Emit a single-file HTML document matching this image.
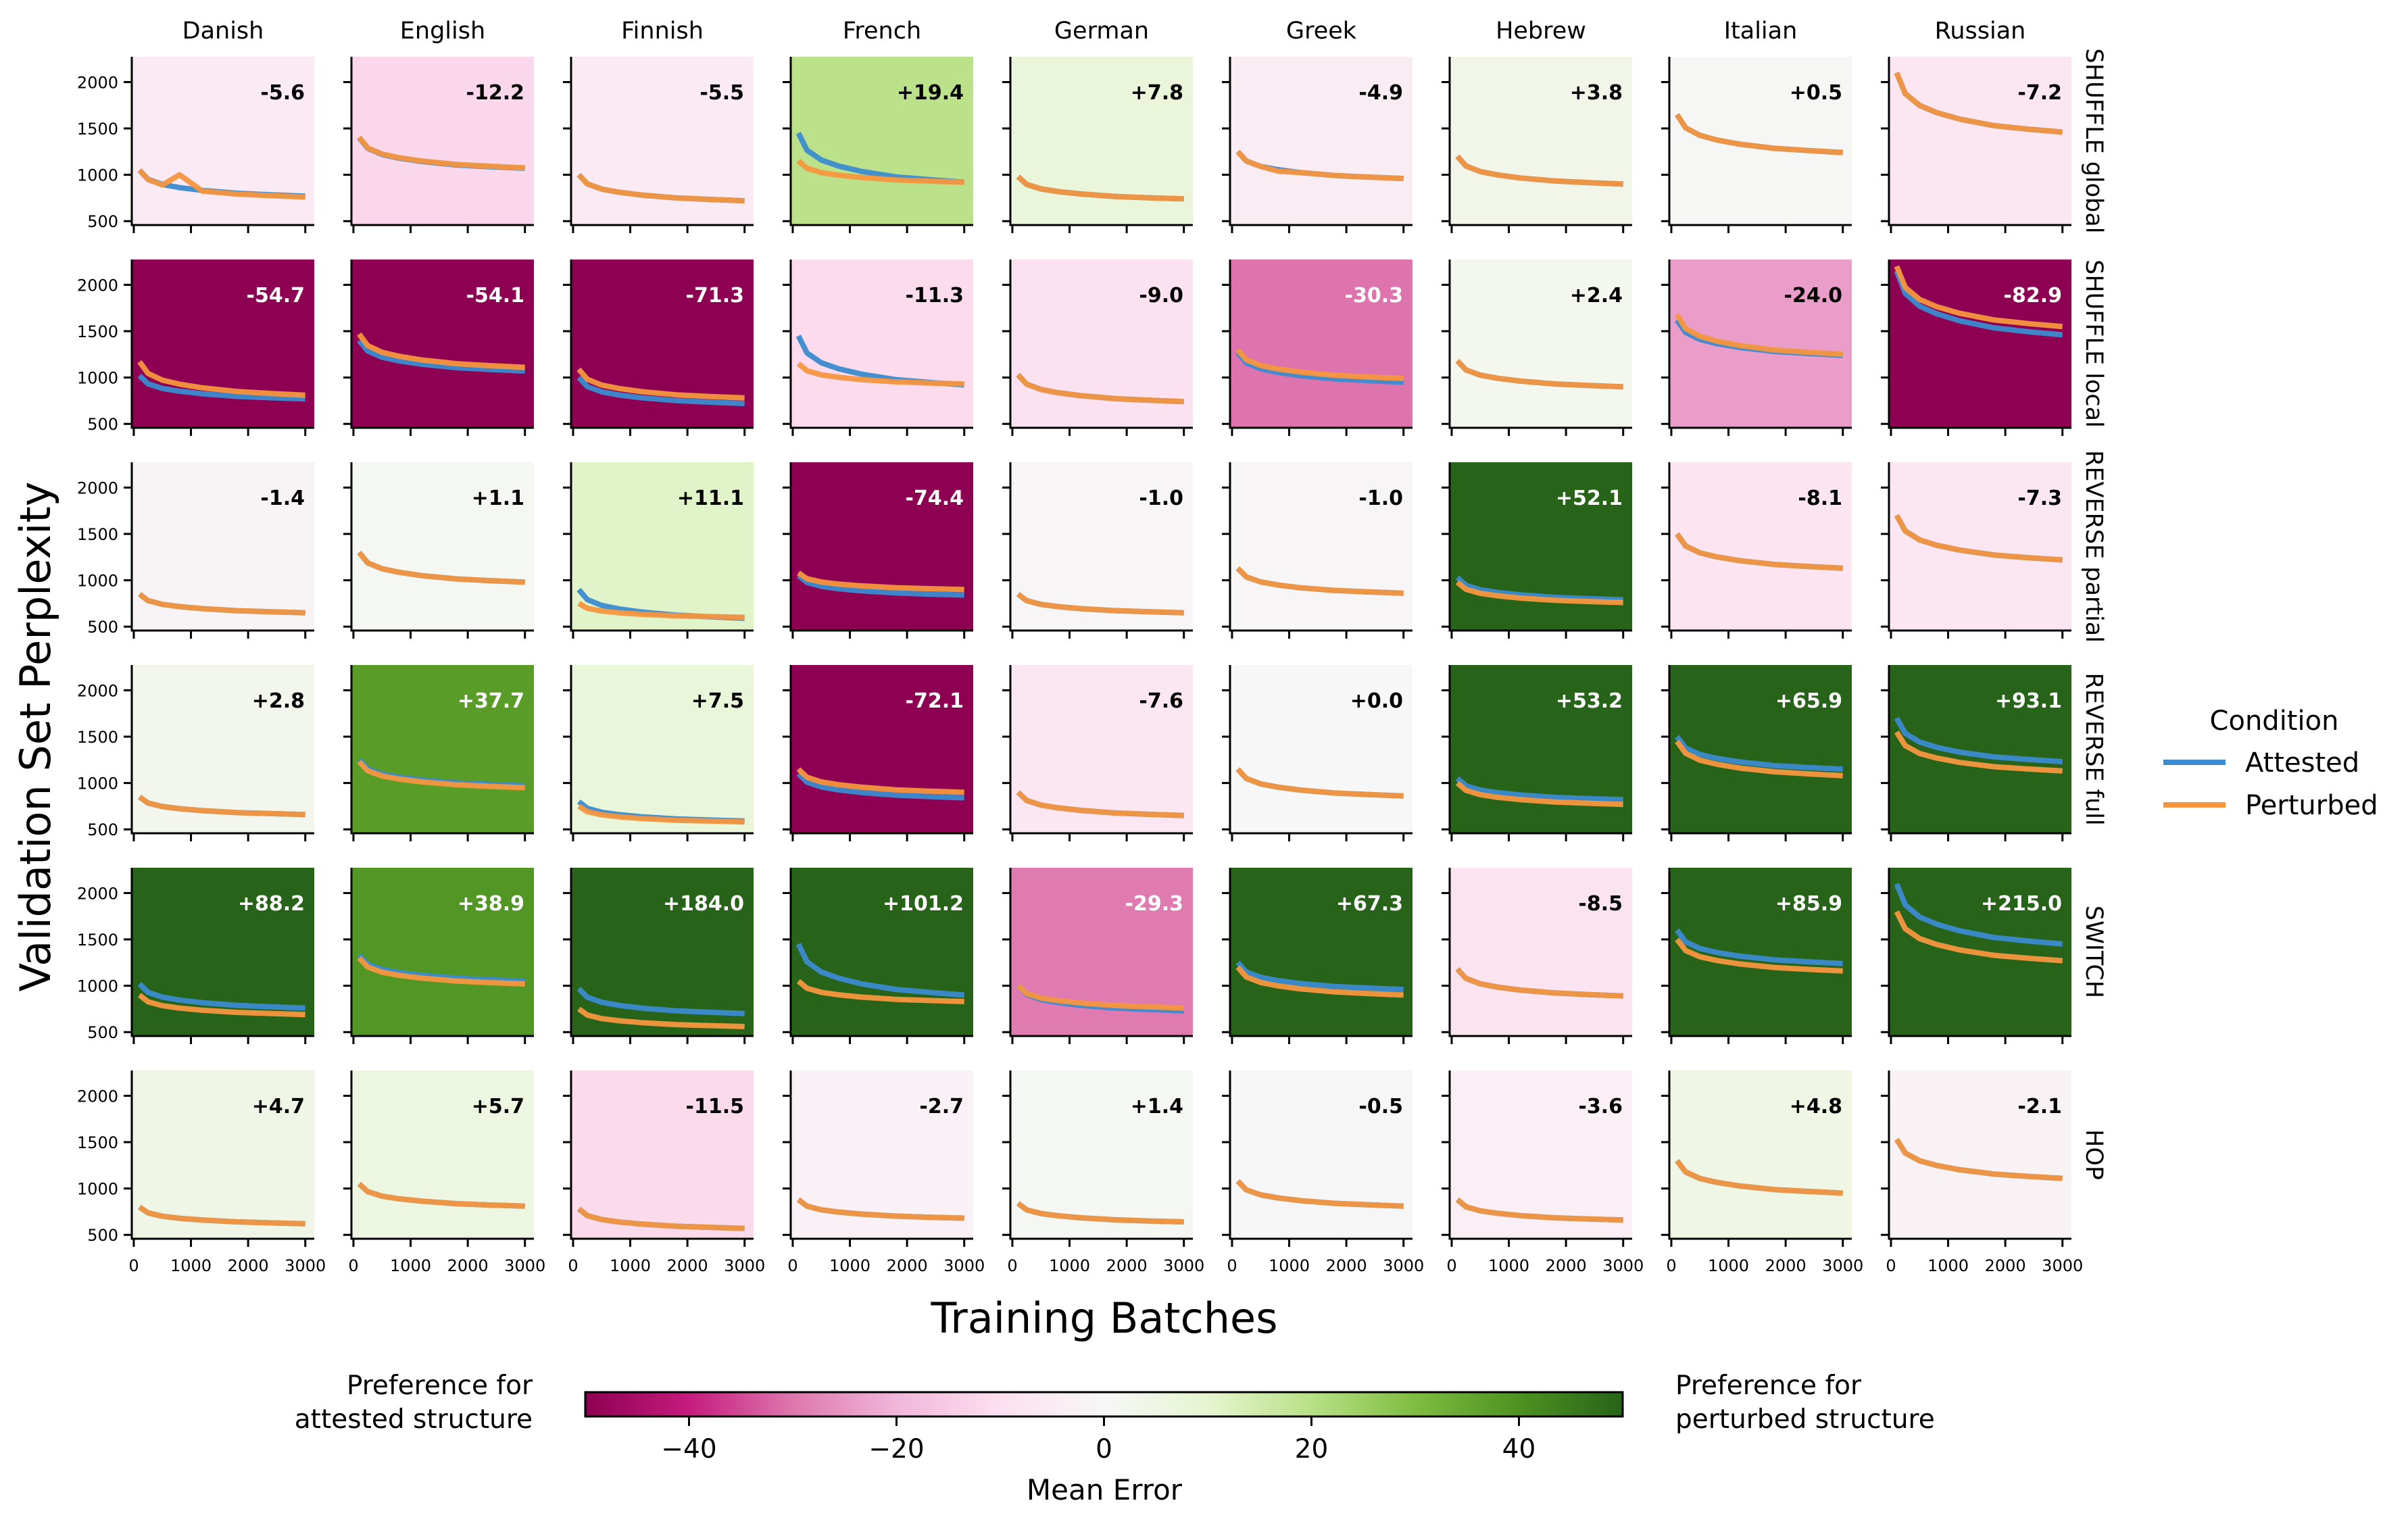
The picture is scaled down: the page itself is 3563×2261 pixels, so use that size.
<!DOCTYPE html>
<html><head><meta charset="utf-8">
<style>
html,body{margin:0;padding:0;background:#fff;}
svg{display:block;font-family:"DejaVu Sans","Liberation Sans",sans-serif;}
</style></head>
<body>
<svg id="chart" width="3563" height="2261" viewBox="0 0 3563 2261" xmlns="http://www.w3.org/2000/svg">
<defs>
<linearGradient id="cbgrad" x1="0" x2="1" y1="0" y2="0">
<stop offset="0" stop-color="#8e0152"/><stop offset="0.1" stop-color="#c51b7d"/><stop offset="0.2" stop-color="#de77ae"/><stop offset="0.3" stop-color="#f1b6da"/><stop offset="0.4" stop-color="#fde0ef"/><stop offset="0.5" stop-color="#f7f7f7"/><stop offset="0.6" stop-color="#e6f5d0"/><stop offset="0.7" stop-color="#b8e186"/><stop offset="0.8" stop-color="#7fbc41"/><stop offset="0.9" stop-color="#4d9221"/><stop offset="1" stop-color="#276419"/>
</linearGradient>
</defs>
<g id="panels"></g>
<text x="0" y="0" transform="translate(74,1090) rotate(-90)" text-anchor="middle" font-size="62">Validation Set Perplexity</text>
<text x="1634" y="1972" text-anchor="middle" font-size="62">Training Batches</text>
<g>
<text x="3365" y="1080" text-anchor="middle" font-size="40">Condition</text>
<line x1="3201" x2="3293" y1="1128" y2="1128" stroke="#3b8bd0" stroke-width="8"/>
<text x="3322" y="1142" font-size="40">Attested</text>
<line x1="3201" x2="3293" y1="1191" y2="1191" stroke="#f5963f" stroke-width="8"/>
<text x="3322" y="1205" font-size="40">Perturbed</text>
</g>
<g id="colorbar">
<rect x="866" y="2060" width="1535" height="36" fill="url(#cbgrad)" stroke="#000" stroke-width="3"/>
<text x="1634" y="2219" text-anchor="middle" font-size="42">Mean Error</text>
<text text-anchor="end" font-size="39"><tspan x="788" y="2063">Preference for</tspan><tspan x="788" y="2113">attested structure</tspan></text>
<text text-anchor="start" font-size="39"><tspan x="2479" y="2063">Preference for</tspan><tspan x="2479" y="2113">perturbed structure</tspan></text>
</g>
</svg>
<script>
const languages = ["Danish","English","Finnish","French","German","Greek","Hebrew","Italian","Russian"];
const conditions = ["SHUFFLE global","SHUFFLE local","REVERSE partial","REVERSE full","SWITCH","HOP"];
const meanErrors = [
 [-5.6,-12.2,-5.5,19.4,7.8,-4.9,3.8,0.5,-7.2],
 [-54.7,-54.1,-71.3,-11.3,-9.0,-30.3,2.4,-24.0,-82.9],
 [-1.4,1.1,11.1,-74.4,-1.0,-1.0,52.1,-8.1,-7.3],
 [2.8,37.7,7.5,-72.1,-7.6,0.0,53.2,65.9,93.1],
 [88.2,38.9,184.0,101.2,-29.3,67.3,-8.5,85.9,215.0],
 [4.7,5.7,-11.5,-2.7,1.4,-0.5,-3.6,4.8,-2.1]
];
const batches = [100,250,500,800,1200,1800,2400,3000];
const attested = [
 [[1050,952,896,862,832,801,784,770],[1400,1285,1219,1179,1143,1106,1087,1070],[1000,902,846,812,782,751,734,720],[1450,1265,1159,1095,1037,978,947,920],[980,896,848,819,793,766,752,740],[1250,1149,1091,1056,1024,992,975,960],[1200,1095,1035,999,966,933,915,900],[1650,1507,1425,1375,1330,1285,1261,1240],[2100,1876,1748,1671,1601,1530,1492,1460]],
 [[1020,932,882,852,825,797,782,770],[1400,1285,1219,1179,1143,1106,1087,1070],[1000,902,846,812,782,751,734,720],[1450,1265,1159,1095,1037,978,947,920],[1030,929,871,836,804,772,755,740],[1270,1158,1094,1056,1020,985,966,950],[1180,1082,1026,992,962,931,914,900],[1620,1487,1411,1365,1324,1282,1259,1240],[2150,1908,1770,1688,1612,1536,1494,1460]],
 [[850,780,740,716,694,672,660,650],[1300,1188,1124,1086,1050,1015,996,980],[900,791,729,692,658,624,605,590],[1050,976,934,909,886,863,850,840],[850,780,740,716,694,672,660,650],[1130,1036,982,949,919,890,874,860],[1030,946,898,869,843,816,802,790],[1500,1370,1296,1252,1211,1171,1149,1130],[1700,1532,1436,1378,1326,1273,1244,1220]],
 [[850,784,746,723,702,681,670,660],[1250,1152,1096,1062,1032,1001,984,970],[800,727,685,659,636,613,601,590],[1100,1009,957,926,897,869,853,840],[900,812,762,732,705,677,662,650],[1150,1049,991,956,924,892,875,860],[1050,970,924,896,871,845,832,820],[1500,1378,1308,1266,1227,1188,1167,1150],[1700,1536,1442,1385,1333,1282,1254,1230]],
 [[1020,929,877,846,817,789,773,760],[1330,1232,1176,1142,1112,1081,1064,1050],[970,876,822,789,759,730,714,700],[1450,1258,1148,1082,1021,961,928,900],[1000,906,852,819,789,760,744,730],[1250,1149,1091,1056,1024,992,975,960],[1180,1079,1021,986,954,922,905,890],[1600,1474,1402,1359,1319,1280,1258,1240],[2100,1872,1742,1664,1593,1521,1482,1450]],
 [[800,737,701,679,660,640,629,620],[1050,966,918,889,863,836,822,810],[780,707,665,639,616,593,581,570],[880,810,770,746,724,702,690,680],[840,770,730,706,684,662,650,640],[1080,986,932,899,869,840,824,810],[880,803,759,733,708,684,671,660],[1300,1178,1108,1066,1027,989,968,950],[1530,1383,1299,1249,1202,1156,1131,1110]]
];
const perturbed = [
 [[1050,949,890,1000,824,792,775,760],[1405,1290,1224,1184,1148,1111,1092,1075],[1000,902,846,812,782,751,734,720],[1150,1070,1024,996,971,945,932,920],[980,896,848,819,793,766,752,740],[1250,1149,1091,1040,1024,992,975,960],[1200,1095,1035,999,966,933,915,900],[1650,1507,1425,1375,1330,1285,1261,1240],[2100,1876,1748,1671,1601,1530,1492,1460]],
 [[1170,1044,972,929,889,850,828,810],[1470,1344,1272,1229,1189,1150,1128,1110],[1090,981,919,882,848,814,795,780],[1150,1073,1029,1003,978,954,941,930],[1030,929,871,836,804,772,755,740],[1300,1191,1129,1092,1058,1024,1005,990],[1180,1082,1026,992,962,931,914,900],[1680,1529,1444,1392,1345,1297,1272,1250],[2200,1972,1842,1764,1693,1621,1582,1550]],
 [[850,780,740,716,694,672,660,650],[1300,1188,1124,1086,1050,1015,996,980],[750,698,668,650,633,617,608,600],[1080,1017,981,959,940,920,909,900],[850,780,740,716,694,672,660,650],[1130,1036,982,949,919,890,874,860],[980,903,859,833,808,784,771,760],[1500,1370,1296,1252,1211,1171,1149,1130],[1700,1532,1436,1378,1326,1273,1244,1220]],
 [[850,784,746,723,702,681,670,660],[1230,1132,1076,1042,1012,981,964,950],[750,691,657,636,617,599,589,580],[1150,1062,1012,982,955,927,912,900],[900,812,762,732,705,677,662,650],[1150,1049,991,956,924,892,875,860],[1000,920,874,846,821,795,782,770],[1450,1320,1246,1202,1161,1121,1099,1080],[1550,1403,1319,1269,1222,1176,1151,1130]],
 [[900,827,785,759,736,713,701,690],[1300,1202,1146,1112,1082,1051,1034,1020],[750,684,646,623,602,581,570,560],[1050,973,929,903,878,854,841,830],[1000,916,868,839,813,786,772,760],[1200,1095,1035,999,966,933,915,900],[1180,1079,1021,986,954,922,905,890],[1500,1381,1313,1272,1235,1197,1177,1160],[1800,1615,1509,1445,1387,1328,1297,1270]],
 [[800,737,701,679,660,640,629,620],[1050,966,918,889,863,836,822,810],[780,707,665,639,616,593,581,570],[880,810,770,746,724,702,690,680],[840,770,730,706,684,662,650,640],[1080,986,932,899,869,840,824,810],[880,803,759,733,708,684,671,660],[1300,1178,1108,1066,1027,989,968,950],[1530,1383,1299,1249,1202,1156,1131,1110]]
];
const yTicks = [500,1000,1500,2000];
const xTicks = [0,1000,2000,3000];
const cbTicks = [-40,-20,0,20,40];

const NS = "http://www.w3.org/2000/svg";
const PL = 195, PT = 84, PW = 270, PH = 249, DX = 325, DY = 300;
const XMIN = -35, XMAX = 3157, YMIN = 458, YMAX = 2273;
const piyg = ["#8e0152","#c51b7d","#de77ae","#f1b6da","#fde0ef","#f7f7f7","#e6f5d0","#b8e186","#7fbc41","#4d9221","#276419"];
function hex(h){return [1,3,5].map(i=>parseInt(h.substr(i,2),16));}
function cmap(v){
  let t = Math.max(0, Math.min(1, (v + 50) / 100)) * 10;
  let i = Math.min(9, Math.floor(t)), f = t - i;
  const a = hex(piyg[i]), b = hex(piyg[i+1]);
  return "rgb(" + a.map((c,k)=>Math.round(c + (b[k]-c)*f)).join(",") + ")";
}
function mk(tag, attrs, parent){const e=document.createElementNS(NS,tag);for(const k in attrs)e.setAttribute(k,attrs[k]);parent.appendChild(e);return e;}
const root = document.getElementById("panels");
for (let r = 0; r < conditions.length; r++) {
  for (let c = 0; c < languages.length; c++) {
    const x0 = PL + c*DX, y0 = PT + r*DY;
    const sx = v => x0 + (v - XMIN) / (XMAX - XMIN) * PW;
    const sy = v => y0 + PH - (v - YMIN) / (YMAX - YMIN) * PH;
    const g = mk("g", {}, root);
    
    
    const bg = mk("rect", {x:x0, y:y0, width:PW, height:PH, fill:cmap(meanErrors[r][c])}, g);
    
    
    const series = [[attested[r][c], "#3b8bd0"], [perturbed[r][c], "#f5963f"]];
    series.forEach(([vals, col], si) => {
      const pts = vals.map((v,i)=> sx(batches[i]).toFixed(1) + "," + sy(v).toFixed(1)).join(" ");
      const pl = mk("polyline", {points:pts, fill:"none", stroke:col, "stroke-width":8, "stroke-linejoin":"round", "stroke-linecap":"butt", opacity:0.95}, g);
      
      
    });
    mk("line", {x1:x0, x2:x0, y1:y0, y2:y0+PH+1.5, stroke:"#000", "stroke-width":3}, g);
    mk("line", {x1:x0-1.5, x2:x0+PW, y1:y0+PH, y2:y0+PH, stroke:"#000", "stroke-width":3}, g);
    yTicks.forEach(t => {
      mk("line", {x1:x0-12, x2:x0, y1:sy(t), y2:sy(t), stroke:"#000", "stroke-width":3}, g);
      if (c === 0) {
        const tl = mk("text", {x:x0-20, y:sy(t)+9, "text-anchor":"end", "font-size":24}, g);
        tl.textContent = t;
        
        
      }
    });
    xTicks.forEach(t => {
      mk("line", {x1:sx(t), x2:sx(t), y1:y0+PH, y2:y0+PH+12, stroke:"#000", "stroke-width":3}, g);
      if (r === conditions.length-1) {
        const tl = mk("text", {x:sx(t), y:y0+PH+48, "text-anchor":"middle", "font-size":24}, g);
        tl.textContent = t;
        
        
      }
    });
    const v = meanErrors[r][c];
    const ann = mk("text", {x:x0+PW-14, y:y0+63, "text-anchor":"end", "font-size":30, "font-weight":"bold", fill: Math.abs(v) > 25 ? "#fff" : "#000"}, g);
    ann.textContent = (v >= 0 ? "+" : "") + v.toFixed(1);
    
    
    if (r === 0) {
      const ct = mk("text", {x:x0+PW/2, y:57, "text-anchor":"middle", "font-size":35}, g);
      ct.textContent = languages[c];
      
      
    }
    if (c === languages.length-1) {
      const rt = mk("text", {x:0, y:0, "text-anchor":"middle", "font-size":35, transform:"translate(" + (x0+PW+22) + "," + (y0+PH/2) + ") rotate(90)"}, g);
      rt.textContent = conditions[r];
      
      
    }
  }
}
const cb = document.getElementById("colorbar");
const cbx = v => 866 + (v + 50) / 100 * 1535;
cbTicks.forEach(t => {
  mk("line", {x1:cbx(t), x2:cbx(t), y1:2096, y2:2110, stroke:"#000", "stroke-width":3}, cb);
  const tl = mk("text", {x:cbx(t), y:2157, "text-anchor":"middle", "font-size":39}, cb);
  tl.textContent = t < 0 ? "\u2212" + Math.abs(t) : String(t);
  
  
});
</script>
</body></html>
